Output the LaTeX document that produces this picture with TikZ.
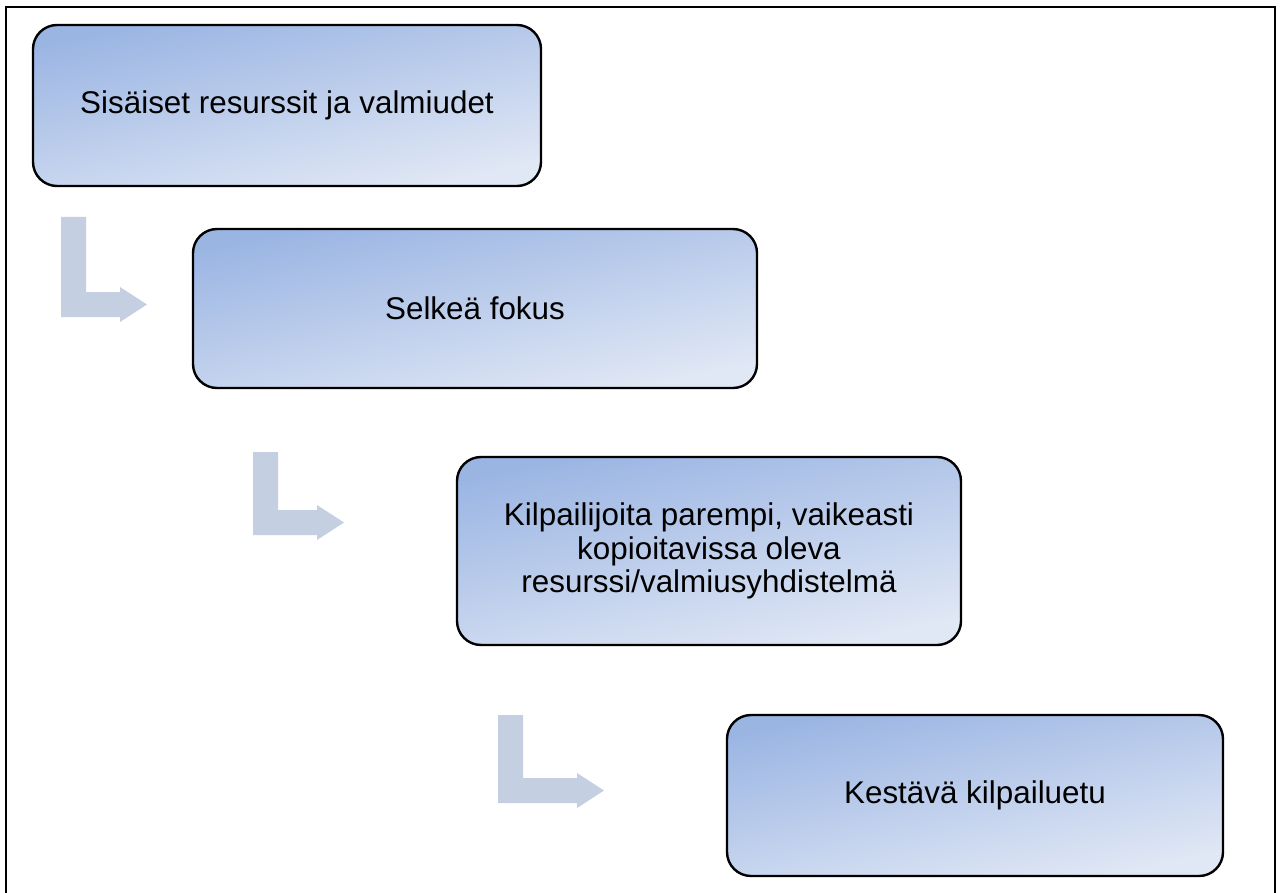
\documentclass[tikz,border=0pt]{standalone}
\usepackage{fontspec}
\setmainfont{Liberation Sans}
\definecolor{boxtop}{RGB}{155,181,227}
\definecolor{boxbot}{RGB}{225,232,245}
\definecolor{arrowcol}{RGB}{197,207,226}
\tikzset{stage/.style={draw=black, line width=1.2pt, rounded corners=12pt,
    top color=boxtop, bottom color=boxbot, shading angle=12,
    align=center, inner sep=0pt, font=\fontsize{15.7}{16.8}\selectfont}}

\begin{document}
\begin{tikzpicture}[x=0.5pt,y=-0.5pt]
\useasboundingbox (0,0) rectangle (1284,893);
\draw[line width=1pt] (6,893) -- (6,7) -- (1275,7) -- (1275,893);
% stages
\node[stage, minimum width=254pt, minimum height=80.5pt] (res) at (287,105.5) {Sis\"aiset resurssit ja valmiudet};
\node[stage, minimum width=282pt, minimum height=79.5pt] (fokus) at (475,308.5) {Selke\"a fokus};
\node[stage, minimum width=252pt, minimum height=94pt] (yhd) at (709,551) {Kilpailijoita parempi, vaikeasti\\kopioitavissa oleva\\resurssi/valmiusyhdistelm\"a};
\node[stage, minimum width=248pt, minimum height=80.5pt] (etu) at (975,795.5) {Kest\"av\"a kilpailuetu};
% bent arrows
\foreach \x/\t/\b/\h in {61/217/317/120, 253/452/535/317, 498/715/803/577}
  \fill[arrowcol] (\x,\t) -- (\x+25,\t) -- (\x+25,\b-25) -- (\h,\b-25) -- (\h,\b-30)
    -- (\h+27,\b-12.5) -- (\h,\b+5) -- (\h,\b) -- (\x,\b) -- cycle;
\end{tikzpicture}
\end{document}
